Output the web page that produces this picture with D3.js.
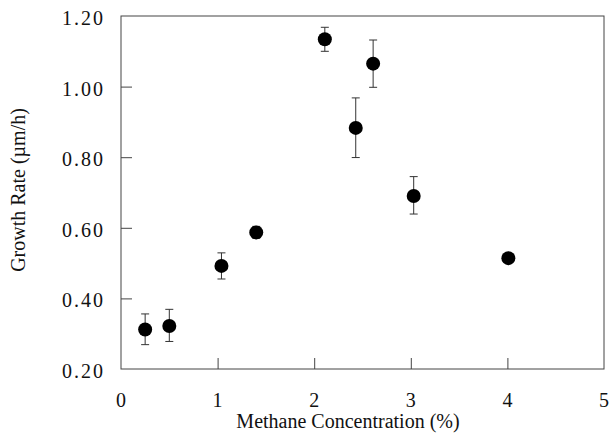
<!DOCTYPE html>
<html lang="en">
<head>
<meta charset="utf-8">
<title>Growth rate vs methane concentration</title>
<script src="https://cdn.jsdelivr.net/npm/d3@7"></script>
<style>
  body { margin: 0; background: #fff; }
  text { font-family: "Liberation Serif", "DejaVu Serif", serif; fill: #111; }
</style>
</head>
<body>
<script>
// methane concentration (%)
const methane = [0.25, 0.5, 1.04, 1.4, 2.11, 2.43, 2.61, 3.03, 4.01]
// growth rate (um/h)
const growth = [0.312, 0.322, 0.492, 0.587, 1.134, 0.883, 1.065, 0.690, 0.514]
const errLow = [0.269, 0.278, 0.455, 0.570, 1.100, 0.799, 0.998, 0.639, 0.505]
const errHigh = [0.356, 0.369, 0.529, 0.604, 1.168, 0.968, 1.132, 0.745, 0.523]
const xTicks = [0, 1, 2, 3, 4, 5]
const yTicks = [0.2, 0.4, 0.6, 0.8, 1.0, 1.2]

const w = 610, h = 437
const m = {left: 121, right: 6, top: 16, bottom: 68}

const svg = d3.select("body").append("svg")
    .attr("width", w)
    .attr("height", h)

const x = d3.scaleLinear().domain([0, 5]).range([m.left, w - m.right])
const y = d3.scaleLinear().domain([0.2, 1.2]).range([h - m.bottom, m.top])

// frame
svg.append("rect")
    .attr("x", x(0)).attr("y", y(1.2))
    .attr("width", x(5) - x(0)).attr("height", y(0.2) - y(1.2))
    .attr("fill", "none").attr("stroke", "#444").attr("stroke-width", 1)

// x axis, inward ticks
const xAxis = svg.append("g").attr("transform", `translate(0,${y(0.2)})`)
xAxis.call(d3.axisBottom(x).tickValues(d3.range(0.5, 5, 1)).tickSize(-6).tickFormat(""))
xAxis.call(d3.axisBottom(x).tickValues(xTicks.slice(1, -1)).tickSize(-11).tickFormat(""))
xAxis.selectAll(".domain").remove()
xAxis.selectAll("line").attr("stroke", "#444")
svg.append("g").selectAll("text").data(xTicks).join("text")
    .attr("x", d => x(d)).attr("y", y(0.2) + 38)
    .attr("text-anchor", "middle").attr("font-size", 20)
    .text(d => d)

// y axis, inward ticks
const yAxis = svg.append("g").attr("transform", `translate(${x(0)},0)`)
yAxis.call(d3.axisLeft(y).tickValues(d3.range(0.3, 1.2, 0.2)).tickSize(-6).tickFormat(""))
yAxis.call(d3.axisLeft(y).tickValues(yTicks.slice(1, -1)).tickSize(-11).tickFormat(""))
yAxis.selectAll(".domain").remove()
yAxis.selectAll("line").attr("stroke", "#444")
svg.append("g").selectAll("text").data(yTicks).join("text")
    .attr("x", x(0) - 16).attr("y", d => y(d) + 9)
    .attr("text-anchor", "end").attr("font-size", 20)
    .attr("letter-spacing", 2)
    .text(d => d.toFixed(2))

// axis titles
svg.append("text")
    .attr("x", 348).attr("y", 428)
    .attr("text-anchor", "middle").attr("font-size", 20)
    .text("Methane Concentration (%)")
svg.append("text")
    .attr("transform", `translate(25,190) rotate(-90)`)
    .attr("text-anchor", "middle").attr("font-size", 20)
    .text("Growth Rate (\u00b5m/h)")

// error bars
const idx = d3.range(methane.length)
const bars = svg.append("g").attr("stroke", "#333").attr("stroke-width", 1)
bars.selectAll(".v").data(idx).join("line")
    .attr("x1", i => x(methane[i])).attr("x2", i => x(methane[i]))
    .attr("y1", i => y(errLow[i])).attr("y2", i => y(errHigh[i]))
bars.selectAll(".t").data(idx).join("line")
    .attr("x1", i => x(methane[i]) - 4).attr("x2", i => x(methane[i]) + 4)
    .attr("y1", i => y(errHigh[i])).attr("y2", i => y(errHigh[i]))
bars.selectAll(".b").data(idx).join("line")
    .attr("x1", i => x(methane[i]) - 4).attr("x2", i => x(methane[i]) + 4)
    .attr("y1", i => y(errLow[i])).attr("y2", i => y(errLow[i]))

// points
svg.append("g").selectAll("circle").data(idx).join("circle")
    .attr("cx", i => x(methane[i]))
    .attr("cy", i => y(growth[i]))
    .attr("r", 7)
    .attr("fill", "#000")
</script>
</body>
</html>
